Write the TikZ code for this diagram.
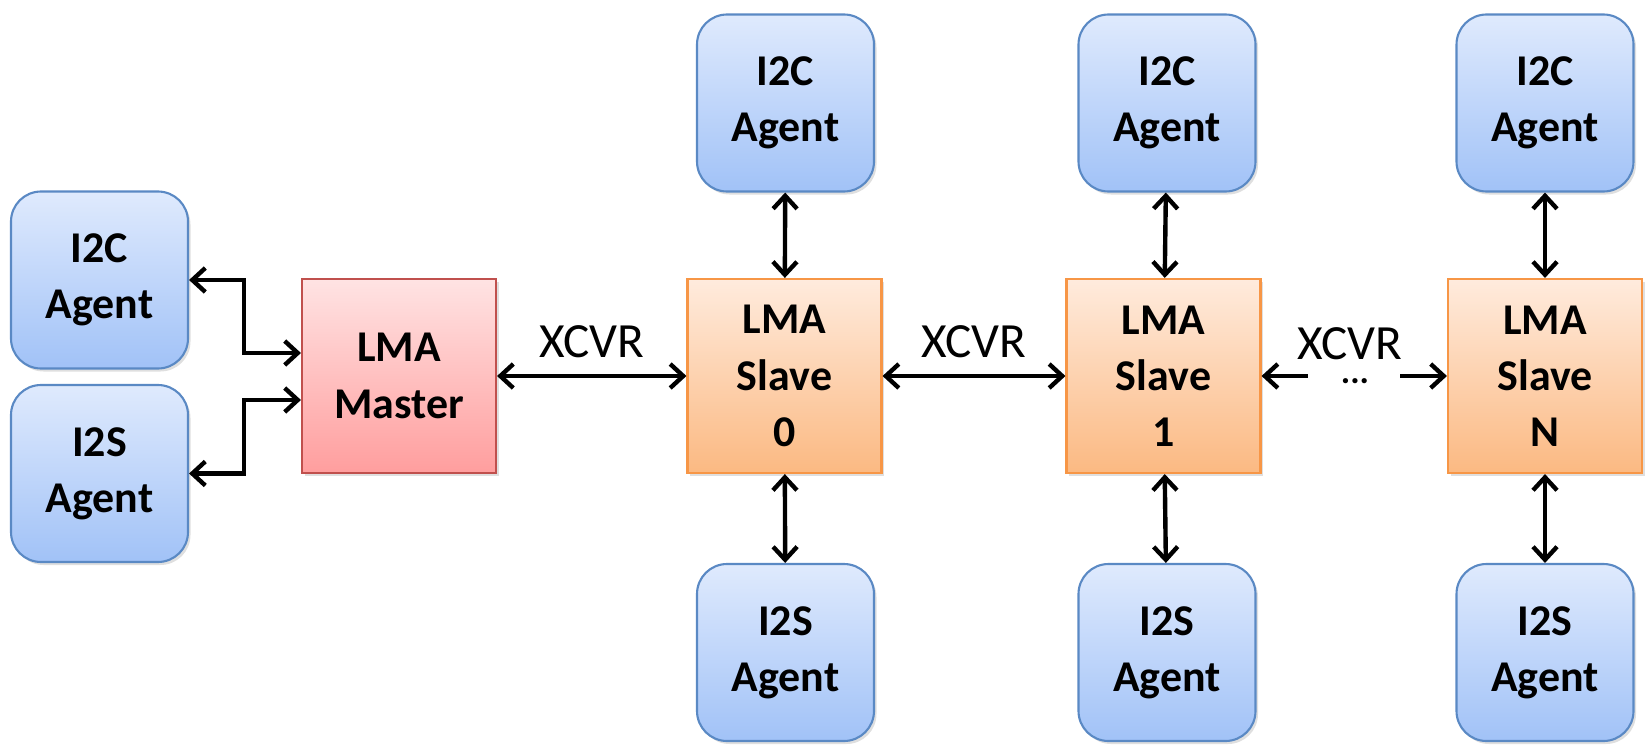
\documentclass[tikz,border=0pt]{standalone}
\usepackage{fontspec}
\setmainfont{Carlito}
\usepackage{tikz}
\usetikzlibrary{arrows.meta,shadows}
\tikzset{box/.style={draw,line width=1.2pt,align=center,
        font=\fontsize{25}{32}\selectfont\bfseries,
        drop shadow={shadow xshift=0.05cm,shadow yshift=-0.06cm,opacity=0.25}},
    agent/.style={box,rounded corners=0.6cm,minimum width=3.54cm,minimum height=3.54cm,
        draw=agentline,top color=agenttop,bottom color=agentbot},
    master/.style={box,minimum width=3.88cm,minimum height=3.88cm,
        draw=masterline,top color=mastertop,bottom color=masterbot},
    slave/.style={box,minimum width=3.88cm,minimum height=3.88cm,
        draw=slaveline,top color=slavetop,bottom color=slavebot},
    link/.style={line width=2.5pt,{Straight Barb[length=2.6mm,width=4.8mm]}-{Straight Barb[length=2.6mm,width=4.8mm]}},
    xcvr/.style={font=\fontsize{28}{32}\selectfont,above=0.2cm}}
\definecolor{agentline}{HTML}{5A89C4}
\definecolor{agenttop}{HTML}{DFEAFD}
\definecolor{agentbot}{HTML}{A1C2F7}
\definecolor{masterline}{HTML}{C0504D}
\definecolor{mastertop}{HTML}{FFE3E3}
\definecolor{masterbot}{HTML}{FF9E9E}
\definecolor{slaveline}{HTML}{F79646}
\definecolor{slavetop}{HTML}{FFEBDD}
\definecolor{slavebot}{HTML}{FBB982}

\begin{document}
\begin{tikzpicture}
\useasboundingbox (0,0) rectangle (33.02,-14.98);
% master side
\node[agent] (i2cM) at (1.99,-5.60) {I2C\\Agent};
\node[agent] (i2sM) at (1.99,-9.47) {I2S\\Agent};
\node[master] (master) at (7.98,-7.52) {LMA\\Master};
% slaves with their agents
\node[slave] (slave0) at (15.69,-7.52) {LMA\\Slave\\0};
\node[slave] (slave1) at (23.27,-7.52) {LMA\\Slave\\1};
\node[slave] (slaveN) at (30.90,-7.52) {LMA\\Slave\\N};
\node[agent] (i2c0) at (15.71,-2.06) {I2C\\Agent};
\node[agent] (i2c1) at (23.34,-2.06) {I2C\\Agent};
\node[agent] (i2cN) at (30.90,-2.06) {I2C\\Agent};
\node[agent] (i2s0) at (15.71,-13.05) {I2S\\Agent};
\node[agent] (i2s1) at (23.34,-13.05) {I2S\\Agent};
\node[agent] (i2sN) at (30.90,-13.05) {I2S\\Agent};

\draw[link] (i2cM.east) -- ++(1.1,0) |- ([yshift=0.46cm]master.west);
\draw[link] (i2sM.east) -- ++(1.1,0) |- ([yshift=-0.48cm]master.west);

\draw[link] (master) -- node[xcvr] {XCVR} (slave0);
\draw[link] (slave0) -- node[xcvr] {XCVR} (slave1);
% last hop is left open
\coordinate (gapL) at (26.16,-7.52);
\coordinate (gapR) at (28.00,-7.52);
\draw[line width=2.5pt,{Straight Barb[length=2.6mm,width=4.8mm]}-] (slave1.east) -- (gapL);
\draw[line width=2.5pt,-{Straight Barb[length=2.6mm,width=4.8mm]}] (gapR) -- (slaveN.west);
\node[xcvr] (xlab) at (27.0,-7.52) {XCVR};
\node[anchor=base,inner sep=0pt,font=\fontsize{20}{24}\selectfont\bfseries] (dots) at (27.1,-7.66) {...};

\foreach \s in {0,1,N}{
    \draw[link] (i2c\s) -- (slave\s);
    \draw[link] (slave\s) -- (i2s\s);
}
\end{tikzpicture}
\end{document}
